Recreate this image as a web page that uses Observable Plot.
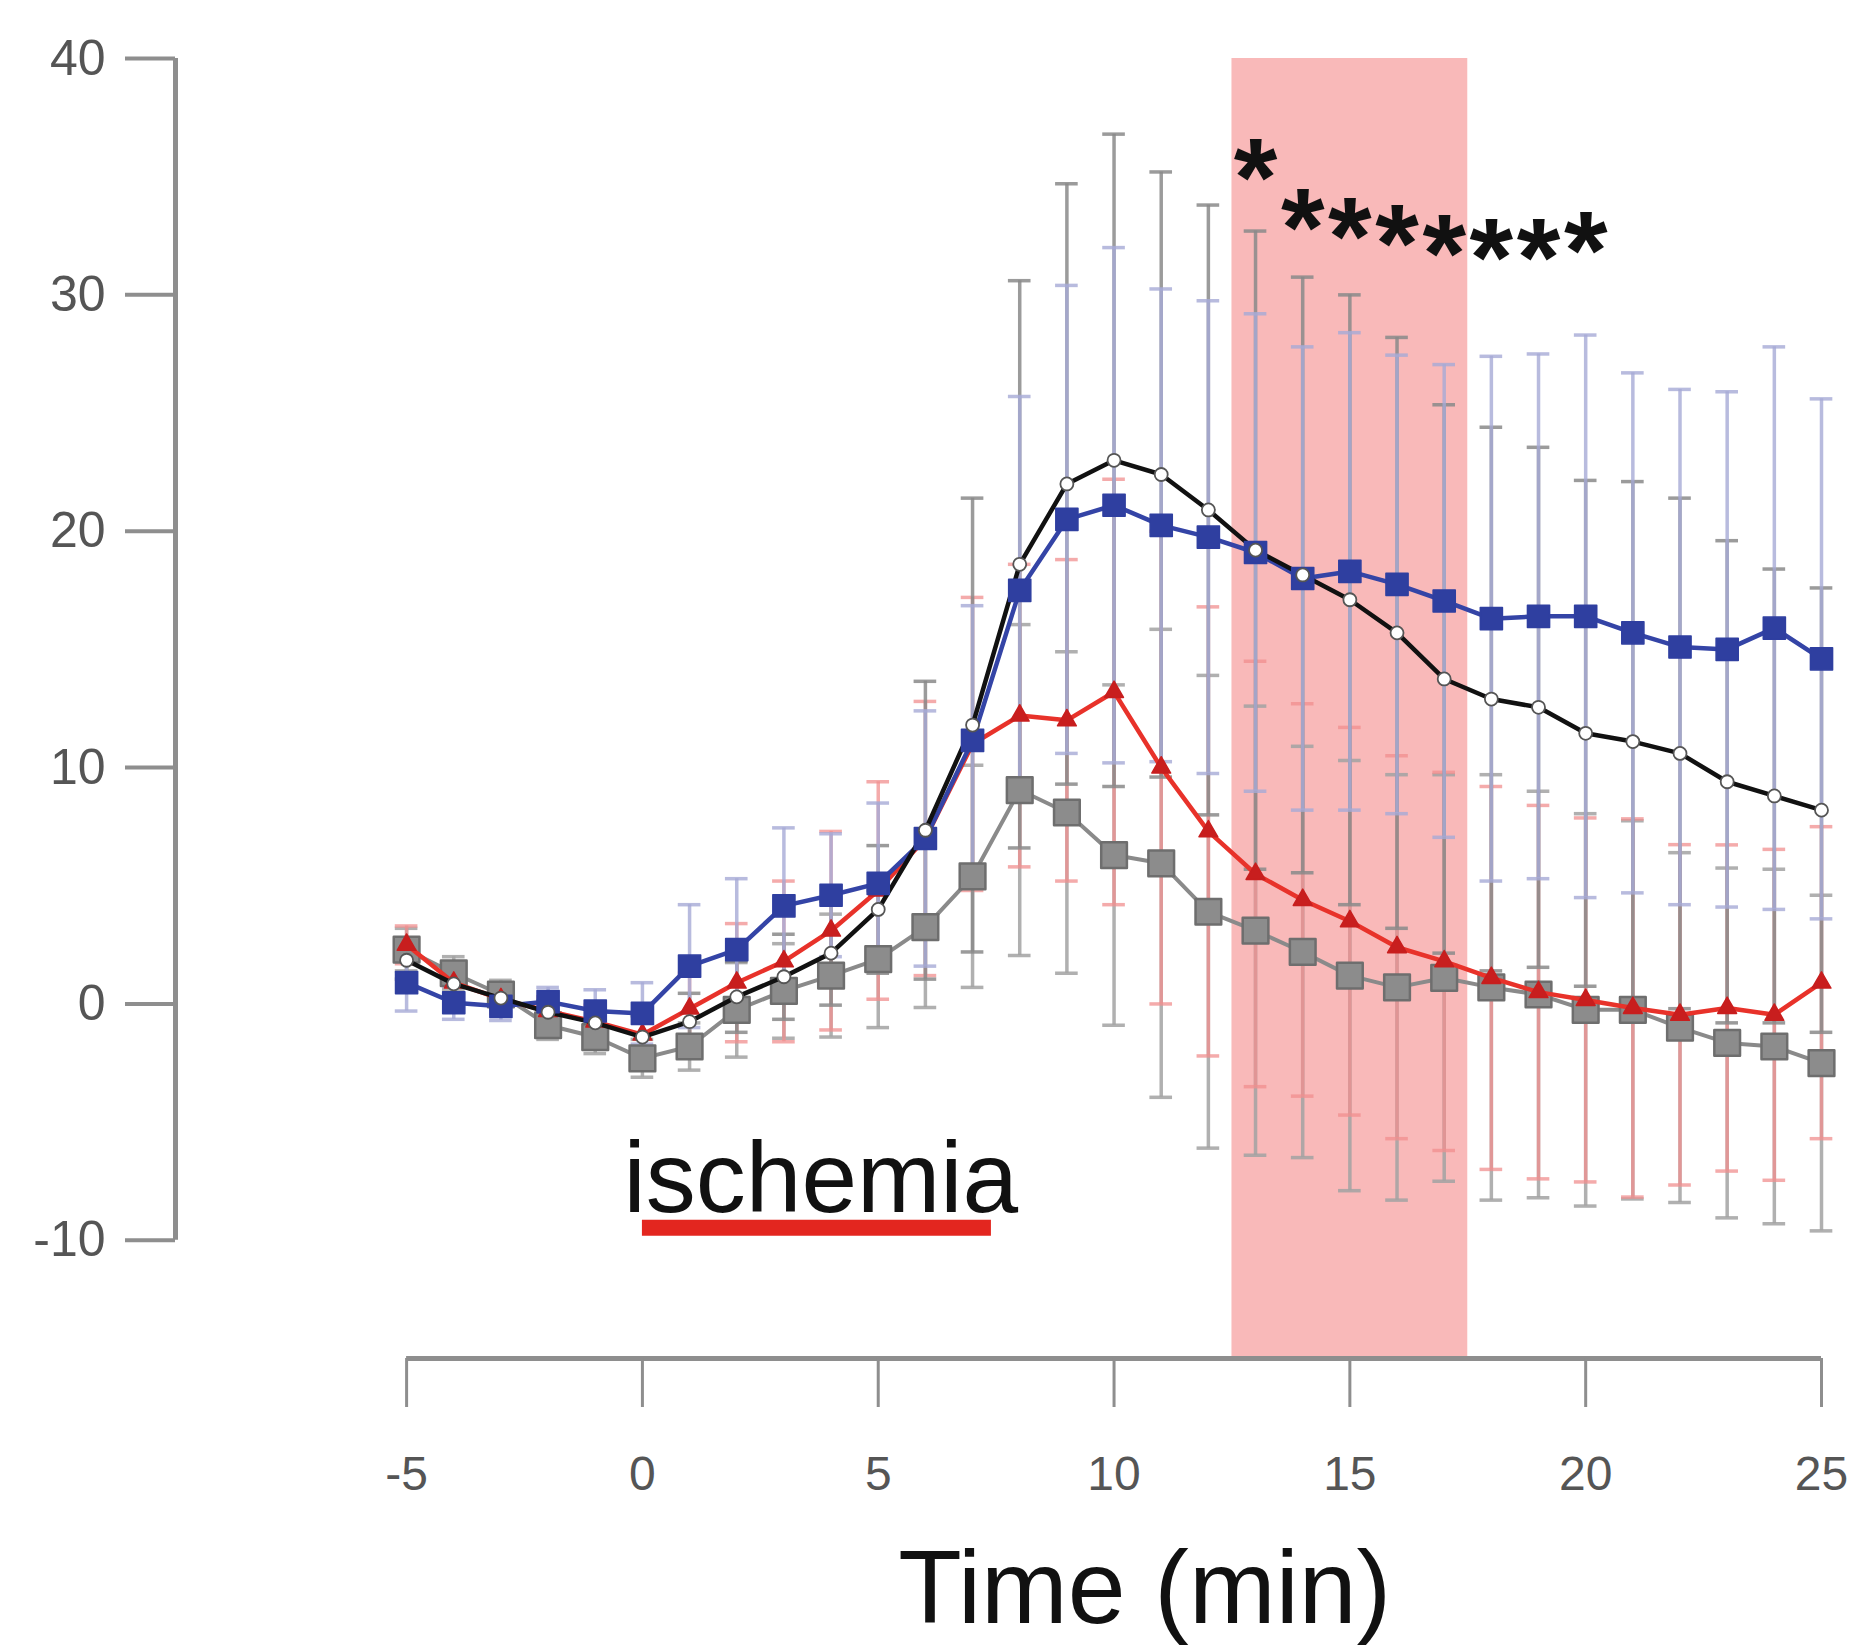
<!DOCTYPE html>
<html>
<head>
<meta charset="utf-8">
<script src="https://cdn.jsdelivr.net/npm/d3@7"></script>
<script src="https://cdn.jsdelivr.net/npm/@observablehq/plot@0.6"></script>
<style>
  html, body { margin: 0; padding: 0; background: #ffffff; }
  #chart svg { display: block; }
</style>
</head>
<body>
<div id="chart"></div>
<script>
// ---- Data ----
const time = [-5,-4,-3,-2,-1,0,1,2,3,4,5,6,7,8,9,10,11,12,13,14,15,16,17,18,19,20,21,22,23,24,25];

// blue filled squares
const blueMean = [0.9,0.05,-0.1,0.1,-0.3,-0.4, 1.6,2.3,4.15,4.6,5.1, 7.0,11.15,17.5,20.5,21.1, 20.25,19.75,19.1,18.0,18.3, 17.75,17.05,16.3,16.4,16.4, 15.7,15.1,15.0,15.9,14.6];
const blueErr  = [1.2,0.7,0.6,0.6,0.9,1.3, 2.6,3.0,3.3,2.6,3.4, 5.4,5.7,8.2,9.9,10.9, 10.0,10.0,10.1,9.8,10.1, 9.7,10.0,11.1,11.1,11.9, 11.0,10.9,10.9,11.9,11.0];

// black line, open circles
const blackMean = [1.85,0.85,0.25,-0.35,-0.8,-1.4, -0.75,0.3,1.15,2.15,4.0, 7.35,11.8,18.6,22.0,23.0, 22.4,20.9,19.2,18.15,17.1, 15.7,13.75,12.9,12.55,11.45, 11.1,10.6,9.4,8.8,8.2];
const blackErr  = [0.8,0.6,0.5,0.5,0.6,0.9, 1.2,1.5,1.8,2.2,2.7, 6.3,9.6,12.0,12.7,13.8, 12.8,12.9,13.5,12.6,12.9, 12.5,11.6,11.5,11.0,10.7, 11.0,10.8,10.2,9.6,9.4];

// red triangles
const redMean = [2.5,0.9,0.2,-0.3,-0.75,-1.3, -0.2,0.9,1.8,3.1,4.8, 7.0,11.0,12.2,12.0,13.2, 10.0,7.3,5.5,4.4,3.5, 2.4,1.8,1.1,0.5,0.17, -0.17,-0.46,-0.17,-0.46,0.9];
const redErr  = [0.8,0.7,0.6,0.6,0.7,0.9, 1.5,2.5,3.4,4.2,4.6, 5.8,6.2,6.4,6.8,9.0, 10.0,9.5,9.0,8.3,8.2, 8.1,8.0,8.1,7.9,7.7, 8.0,7.2,6.9,7.0,6.6];

// grey squares
const grayMean = [2.3,1.3,0.4,-0.9,-1.4,-2.3, -1.8,-0.25,0.55,1.2,1.9, 3.25,5.4,9.05,8.1,6.3, 5.95,3.9,3.1,2.2,1.2, 0.7,1.1,0.7,0.4,-0.25, -0.25,-1.0,-1.65,-1.8,-2.5];
const grayErr  = [0.9,0.7,0.6,0.6,0.7,0.8, 1.0,2.0,2.0,2.6,2.9, 3.4,4.7,7.0,6.8,7.2, 9.9,10.0,9.5,8.7,9.1, 9.0,8.6,9.0,8.6,8.3, 8.0,7.4,7.4,7.5,7.1];

// significance asterisks (time, height)
const sigTime = [13,14,15,16,17,18,19,20];
const sigY    = [35.7,33.6,33.2,32.9,32.5,32.3,32.3,32.6];

// shaded window and ischemia period
const shadedWindow = [{start: 12.5, end: 17.5}];
const ischemiaPeriod = [{start: 0, end: 7.4, y: -9.47, label: "ischemia", labelX: -0.4, labelY: -8.8}];

// axes
const xTicks = [-5,0,5,10,15,20,25];
const yTicks = [-10,0,10,20,30,40];
const xDomain = [-9.9, 25];
const yDomain = [-15, 40];
const xLabel = "Time (min)";
const xLabelPos = 10.65;

// ---- build rows ----
const rows = (mean, err) => time.map((t, i) => ({t, mean: mean[i], lo: mean[i] - err[i], hi: mean[i] + err[i]}));
const blue = rows(blueMean, blueErr);
const black = rows(blackMean, blackErr);
const red = rows(redMean, redErr);
const gray = rows(grayMean, grayErr);
const sig = sigTime.map((t, i) => ({t, y: sigY[i]}));

const capHalf = 0.24;
function errorBars(data, color, opacity) {
  return [
    Plot.ruleX(data, {x: "t", y1: "lo", y2: "hi", stroke: color, strokeWidth: 3.5, strokeOpacity: opacity}),
    Plot.ruleY(data, {y: "hi", x1: d => d.t - capHalf, x2: d => d.t + capHalf, stroke: color, strokeWidth: 3.5, strokeOpacity: opacity}),
    Plot.ruleY(data, {y: "lo", x1: d => d.t - capHalf, x2: d => d.t + capHalf, stroke: color, strokeWidth: 3.5, strokeOpacity: opacity})
  ];
}

const fmt = d => (d < 0 ? "-" + Math.abs(d) : String(d));

const chart = Plot.plot({
  width: 1859,
  height: 1648,
  marginLeft: 175,
  marginRight: 38,
  marginTop: 58,
  marginBottom: 290,
  x: {domain: xDomain, axis: null},
  y: {domain: yDomain, axis: null},
  style: {fontFamily: "'Liberation Sans', Arial, sans-serif", background: "#ffffff", overflow: "visible"},
  marks: [
    Plot.rect(shadedWindow, {x1: "start", x2: "end", y1: yDomain[0], y2: yDomain[1], fill: "#f9b9b9"}),

    ...errorBars(gray, "#a2a2a2", 0.85),
    ...errorBars(red, "#f08f8f", 0.75),
    ...errorBars(black, "#8a8a8a", 0.85),
    ...errorBars(blue, "#a6aad6", 0.8),

    Plot.line(gray, {x: "t", y: "mean", stroke: "#8a8a8a", strokeWidth: 4}),
    Plot.dot(gray, {x: "t", y: "mean", symbol: "square", r: 14.5, fill: "#8c8c8c", stroke: "#6e6e6e", strokeWidth: 2.5, strokeLinejoin: "round"}),

    Plot.line(red, {x: "t", y: "mean", stroke: "#e8322a", strokeWidth: 4.5}),
    Plot.dot(red, {x: "t", y: "mean", symbol: "triangle", r: 7, fill: "#c81e1e", stroke: "#c81e1e", strokeWidth: 1.5, strokeLinejoin: "round"}),

    Plot.line(blue, {x: "t", y: "mean", stroke: "#3444a6", strokeWidth: 4.5}),
    Plot.line(black, {x: "t", y: "mean", stroke: "#111111", strokeWidth: 4.5}),
    Plot.dot(blue, {x: "t", y: "mean", symbol: "square", r: 12.5, fill: "#2f3fa0", stroke: "#2f3fa0", strokeWidth: 1.5, strokeLinejoin: "round"}),
    Plot.dot(black, {x: "t", y: "mean", r: 6.5, fill: "#ffffff", stroke: "#555555", strokeWidth: 1.8}),

    Plot.text(sig, {x: "t", y: "y", text: () => "*", fontSize: 112, fontWeight: "bold", fill: "#111111", lineAnchor: "middle", textAnchor: "middle", dy: 20}),

    Plot.ruleY(ischemiaPeriod, {x1: "start", x2: "end", y: "y", stroke: "#e3261f", strokeWidth: 16}),
    Plot.text(ischemiaPeriod, {x: "labelX", y: "labelY", text: "label", fontSize: 100, fill: "#111111", textAnchor: "start", lineAnchor: "bottom"}),

    // y axis
    Plot.ruleX([xDomain[0]], {y1: yTicks[0], y2: yTicks[yTicks.length - 1], stroke: "#8e8e8e", strokeWidth: 5}),
    Plot.axisY({ticks: yTicks, tickFormat: fmt, tickSize: 50, tickPadding: 20, fontSize: 50, stroke: "#8e8e8e", strokeWidth: 4, fill: "#555555"}),

    // x axis
    Plot.ruleY([yDomain[0]], {x1: xTicks[0], x2: xTicks[xTicks.length - 1], stroke: "#8e8e8e", strokeWidth: 5}),
    Plot.axisX({ticks: xTicks, tickFormat: fmt, tickSize: 49, tickPadding: 48, fontSize: 48, stroke: "#8e8e8e", strokeWidth: 3, fill: "#555555"}),

    Plot.text([xLabel], {x: xLabelPos, frameAnchor: "bottom", text: d => d, fontSize: 104, fill: "#111111", lineAnchor: "bottom", dy: 264})
  ]
});

document.getElementById("chart").appendChild(chart);
</script>
</body>
</html>
